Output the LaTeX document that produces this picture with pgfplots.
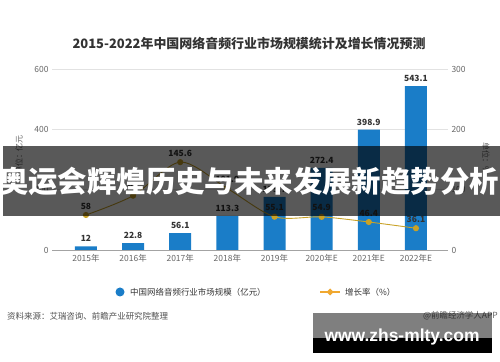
\documentclass[border=0pt]{standalone}
\usepackage{pgfplots}
\pgfplotsset{compat=1.18}
\usepackage{fontspec}
\setmainfont{Noto Sans CJK SC}
\newfontfamily\wm{Liberation Sans}
\definecolor{barblue}{HTML}{1A7DC8}
\definecolor{gold}{HTML}{C9A227}
\definecolor{legold}{HTML}{F0A830}
\definecolor{txt}{HTML}{333333}
\definecolor{tickc}{HTML}{666666}
\definecolor{gridc}{HTML}{E2E2E2}
\pgfplotsset{/pgf/number format/assume math mode=true}
\begin{document}
\begin{tikzpicture}
\useasboundingbox (0,0) rectangle (500bp,362bp);
\fill[white] (0,0) rectangle (500bp,362bp);
\begin{axis}[
  at={(52bp,112bp)}, anchor=south west, scale only axis,
  width=396bp, height=181bp,
  xmin=-0.72, xmax=7.68, ymin=0, ymax=600,
  ytick={0,200,400,600},
  xtick={0,...,7},
  xticklabels={2015年,2016年,2017年,2018年,2019年,2020年E,2021年E,2022年E},
  ymajorgrids, grid style={gridc, line width=0.6pt},
  axis x line*=bottom, axis y line*=left,
  y axis line style={draw=none},
  x axis line style={draw=tickc!60, line width=0.6pt, -},
  major tick length=0pt,
  tick label style={font=\fontsize{8.5}{9}\selectfont, text=tickc},
  xticklabel style={yshift=-1bp},
  ybar, bar width=22bp,
  nodes near coords={\pgfmathprintnumber[fixed,precision=1]{\pgfplotspointmeta}},
  every node near coord/.append style={font=\bfseries\fontsize{8.5}{9}\selectfont, text=txt, yshift=1bp},
]
\addplot[fill=barblue, draw=none] coordinates {(0,12) (1,22.8) (2,56.1) (3,113.3) (4,175.7) (5,272.4) (6,398.9) (7,543.1)};
\end{axis}
\begin{axis}[
  at={(52bp,112bp)}, anchor=south west, scale only axis,
  width=396bp, height=181bp,
  xmin=-0.72, xmax=7.68, ymin=0, ymax=300,
  ytick={0,100,200,300},
  axis x line=none, axis y line*=right,
  y axis line style={draw=none},
  major tick length=0pt,
  tick label style={font=\fontsize{8.5}{9}\selectfont, text=tickc},
  nodes near coords={\pgfmathprintnumber[fixed,precision=1]{\pgfplotspointmeta}},
  every node near coord/.append style={font=\bfseries\fontsize{8.5}{9}\selectfont, text=txt, yshift=2bp},
]
\addplot[gold, line width=0.9pt, smooth, mark=*, mark size=2.6pt, mark options={fill=gold, draw=gold}] coordinates {(0,58) (1,90) (2,145.6) (3,101.9) (4,55.1) (5,54.9) (6,46.4) (7,36.1)};
\end{axis}
% title
\node[font=\bfseries\fontsize{13}{14}\selectfont, text=txt] at (249bp,318bp) {2015-2022年中国网络音频行业市场规模统计及增长情况预测};
% axis unit labels
\node[rotate=90, font=\fontsize{8}{9}\selectfont, text=tickc] at (19bp,207bp) {单位：亿元};
\node[rotate=-90, font=\fontsize{8}{9}\selectfont, text=tickc] at (486bp,204bp) {单位：\%};
% legend
\fill[barblue] (120bp,70bp) circle (4.5bp);
\node[anchor=west, font=\fontsize{8.5}{9}\selectfont, text=txt, inner sep=0pt] at (130bp,70bp) {中国网络音频行业市场规模（亿元）};
\draw[legold, line width=1.2pt] (320bp,70bp) -- (340bp,70bp);
\fill[legold] (330bp,73.5bp) -- (333.5bp,70bp) -- (330bp,66.5bp) -- (326.5bp,70bp) -- cycle;
\node[anchor=west, font=\fontsize{8.5}{9}\selectfont, text=txt, inner sep=0pt] at (345bp,70bp) {增长率（\%）};
% source
\node[anchor=west, font=\fontsize{8.5}{9}\selectfont, text=txt!85, inner sep=0pt] at (7bp,46bp) {资料来源：艾瑞咨询、前瞻产业研究院整理};
\node[anchor=east, font=\fontsize{8.5}{9}\selectfont, text=tickc, inner sep=0pt] at (498bp,46bp) {@前瞻经济学人APP};
% banner overlay
\fill[black, opacity=0.65] (3bp,146bp) rectangle (500bp,216bp);
\node[font=\bfseries\fontsize{29.5}{31}\selectfont, text=white, inner sep=0pt] at (249bp,181bp) {奥运会辉煌历史与未来发展新趋势分析};
% watermark
\fill[black, opacity=0.5] (313bp,24bp) rectangle (492bp,49bp);
\fill[black] (313bp,9bp) rectangle (492bp,24bp);
\node[font=\wm\bfseries\fontsize{17.5}{20}\selectfont, text=white, inner sep=0pt] at (402bp,25bp) {www.zhs-mlty.com};
\end{tikzpicture}
\end{document}
